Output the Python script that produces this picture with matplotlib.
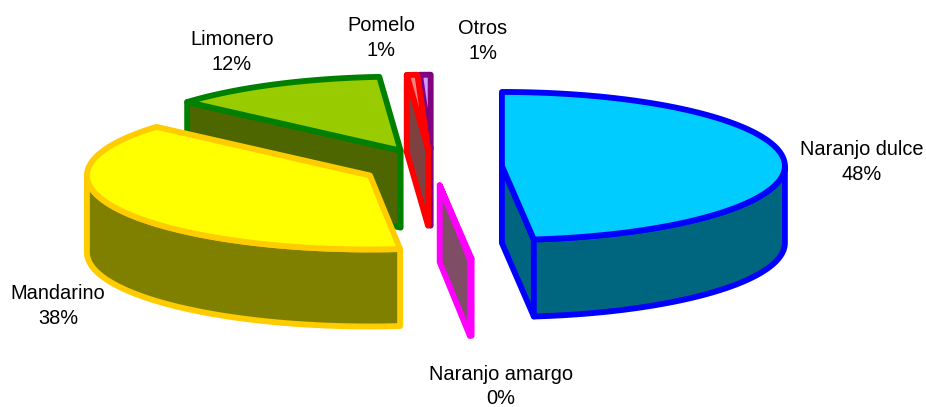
import matplotlib
matplotlib.use("Agg")
import matplotlib.pyplot as plt
import numpy as np
from matplotlib.patches import Polygon

plt.rcParams["font.family"] = ["Liberation Sans", "DejaVu Sans"]

# Datos, en el orden de la tarta (sentido horario desde las 12)
categories = ["Naranjo dulce", "Naranjo amargo", "Mandarino", "Limonero", "Pomelo", "Otros"]
values = [48.2, 0.1, 38.1, 12.4, 0.6, 0.6]

top_colors = ["#00CCFF", "#FF99CC", "#FFFF00", "#99CC00", "#FF8080", "#CC99FF"]
edge_colors = ["#0000FF", "#FF00FF", "#FFCC00", "#008000", "#FF0000", "#800080"]

# Geometria de la tarta en pixeles
CX, CY = 432, 167
A, B = 283, 74
DEPTH = 77
EXPLODE = 70
LW = 4.2

label_pos = [(862, 162), (501, 386.5), (58, 306), (232, 52), (381, 38), (483, 41)]
draw_order = [5, 4, 3, 2, 1, 0]


def point(t, cx, cy):
    return cx + A * np.sin(t), cy - B * np.cos(t)


def shade(color):
    rgb = np.array(matplotlib.colors.to_rgb(color))
    return tuple(rgb * 0.5)


fig = plt.figure(figsize=(9.26, 4.07), dpi=100)
ax = fig.add_axes([0, 0, 1, 1])
ax.set_xlim(0, 926)
ax.set_ylim(407, 0)
ax.axis("off")

ends = np.cumsum(values) / np.sum(values) * 2 * np.pi
starts = np.concatenate([[0], ends[:-1]])

for i in draw_order:
    t1, t2 = starts[i], ends[i]
    mid = (t1 + t2) / 2
    # cada porcion se separa del centro en su direccion media
    cx = CX + EXPLODE * np.sin(mid)
    cy = CY - EXPLODE * B / A * np.cos(mid)
    side = shade(top_colors[i])
    style = dict(facecolor=side, edgecolor=edge_colors[i], linewidth=LW, joinstyle="round")

    # cortes radiales visibles
    for t, visible in ((t1, np.sin(t1) < 0), (t2, np.sin(t2) > 0)):
        if visible:
            px, py = point(t, cx, cy)
            quad = [(cx, cy), (px, py), (px, py + DEPTH), (cx, cy + DEPTH)]
            ax.add_patch(Polygon(quad, closed=True, **style))

    # pared exterior (solo la parte delantera)
    lo, hi = max(t1, np.pi / 2), min(t2, 3 * np.pi / 2)
    if hi > lo:
        tt = np.linspace(lo, hi, 80)
        xs, ys = point(tt, cx, cy)
        wall = list(zip(xs, ys)) + list(zip(xs[::-1], ys[::-1] + DEPTH))
        ax.add_patch(Polygon(wall, closed=True, **style))

    # cara superior
    tt = np.linspace(t1, t2, 120)
    xs, ys = point(tt, cx, cy)
    face = [(cx, cy)] + list(zip(xs, ys))
    ax.add_patch(Polygon(face, closed=True, facecolor=top_colors[i],
                         edgecolor=edge_colors[i], linewidth=LW, joinstyle="round"))

total = sum(values)
for name, val, (lx, ly) in zip(categories, values, label_pos):
    ax.text(lx, ly, f"{name}\n{round(val / total * 100)}%", ha="center", va="center",
            fontsize=14.4, color="black", linespacing=1.35)

fig.savefig("out.png", dpi=100)
